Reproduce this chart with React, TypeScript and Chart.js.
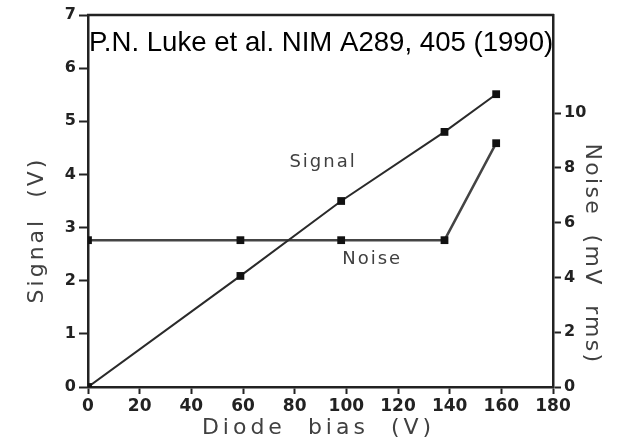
import React, { useEffect, useRef } from "react";
import { Chart, registerables } from "chart.js";

Chart.register(...registerables);

// Data
const biasSignal = [0, 59, 98, 138, 158];
const signalV = [0, 2.09, 3.5, 4.8, 5.51];
const biasNoise = [0, 59, 98, 138, 158];
const noiseMV = [5.36, 5.36, 5.36, 5.36, 8.9];

const xTicks = [0, 20, 40, 60, 80, 100, 120, 140, 160, 180];
const leftTicks = [0, 1, 2, 3, 4, 5, 6, 7];
const rightTicks = [0, 2, 4, 6, 8, 10];

const titleText = "P.N. Luke et al. NIM A289, 405 (1990)";
const xTitle = "Diode  bias  (V)";
const yLeftTitle = "Signal  (V)";
const yRightTitle = "Noise  (mV  rms)";
// annotation labels, anchored in data units (x in V bias, y in Signal V)
const seriesLabels = ["Signal", "Noise"];
const labelX = [91, 110];
const labelY = [4.22, 2.4];

const INK = "#222";
const TXT = "#404040";

const overlay = {
  id: "overlay",
  afterDraw(chart: any) {
    const { ctx, chartArea } = chart;
    const xs = chart.scales.x;
    const yl = chart.scales.y;
    ctx.save();
    // top border of the box
    ctx.strokeStyle = INK;
    ctx.lineWidth = 2.5;
    ctx.beginPath();
    ctx.moveTo(chartArea.left - 1, chartArea.top);
    ctx.lineTo(chartArea.right + 1, chartArea.top);
    ctx.stroke();

    // reference title
    ctx.fillStyle = "#000";
    ctx.font = '27.6px "Liberation Sans", Arial, sans-serif';
    ctx.textAlign = "left";
    ctx.textBaseline = "alphabetic";
    ctx.fillText(titleText, chartArea.left + 1, chartArea.top + 36);

    // axis titles
    ctx.fillStyle = TXT;
    ctx.font = '22px "DejaVu Sans", sans-serif';
    (ctx as any).letterSpacing = "4px";
    ctx.textAlign = "center";
    ctx.textBaseline = "middle";
    ctx.fillText(xTitle, (chartArea.left + chartArea.right) / 2 - 2, 428);

    (ctx as any).letterSpacing = "3px";
    ctx.save();
    ctx.translate(37, 230);
    ctx.rotate(-Math.PI / 2);
    ctx.fillText(yLeftTitle, 0, 0);
    ctx.restore();

    (ctx as any).letterSpacing = "2.3px";
    ctx.save();
    ctx.translate(592, 254);
    ctx.rotate(Math.PI / 2);
    ctx.fillText(yRightTitle, 0, 0);
    ctx.restore();

    // series annotations
    (ctx as any).letterSpacing = "2px";
    ctx.font = '18px "DejaVu Sans", sans-serif';
    ctx.fillStyle = TXT;
    for (let i = 0; i < seriesLabels.length; i++) {
      ctx.fillText(
        seriesLabels[i],
        xs.getPixelForValue(labelX[i]),
        yl.getPixelForValue(labelY[i])
      );
    }
    ctx.restore();
  },
};

export default function App() {
  const ref = useRef<HTMLCanvasElement>(null);
  useEffect(() => {
    if (!ref.current) return;
    const tickFont = { family: '"DejaVu Sans", sans-serif', size: 16, weight: "bold" as const };
    const chart = new Chart(ref.current, {
      type: "line",
      data: {
        datasets: [
          {
            label: "Signal",
            data: biasSignal.map((x, i) => ({ x, y: signalV[i] })),
            yAxisID: "y",
            borderColor: "#2a2a2a",
            backgroundColor: "#111",
            borderWidth: 2,
            pointStyle: "rect",
            pointRadius: 5.5,
            pointBorderWidth: 0,
            tension: 0,
          },
          {
            label: "Noise",
            data: biasNoise.map((x, i) => ({ x, y: noiseMV[i] })),
            yAxisID: "y2",
            borderColor: "#444",
            backgroundColor: "#111",
            borderWidth: 2.5,
            pointStyle: "rect",
            pointRadius: 5.5,
            pointBorderWidth: 0,
            tension: 0,
          },
        ],
      },
      options: {
        responsive: false,
        animation: false,
        layout: { padding: { top: 15, left: 0, right: 0, bottom: 0 } },
        plugins: {
          legend: { display: false },
          tooltip: { enabled: false },
          title: { display: false },
        },
        scales: {
          x: {
            type: "linear",
            min: 0,
            max: 180,
            afterBuildTicks: (s: any) => {
              s.ticks = xTicks.map((v) => ({ value: v }));
            },
            afterFit: (s: any) => {
              s.height = 54;
            },
            ticks: { font: { ...tickFont, size: 17 }, color: INK, padding: 2, maxRotation: 0, autoSkip: false },
            grid: { drawOnChartArea: false, drawTicks: true, tickLength: 7, tickColor: INK, tickWidth: 2 },
            border: { display: true, color: INK, width: 2.5 },
          },
          y: {
            type: "linear",
            position: "left",
            min: 0,
            max: 7,
            afterBuildTicks: (s: any) => {
              s.ticks = leftTicks.map((v) => ({ value: v }));
            },
            afterFit: (s: any) => {
              s.width = 88;
            },
            ticks: { font: tickFont, color: INK, padding: 3, autoSkip: false },
            grid: { drawOnChartArea: false, drawTicks: true, tickLength: 9, tickColor: INK, tickWidth: 2 },
            border: { display: true, color: INK, width: 2.5 },
          },
          y2: {
            type: "linear",
            position: "right",
            min: 0,
            max: 13.58,
            afterBuildTicks: (s: any) => {
              s.ticks = rightTicks.map((v) => ({ value: v }));
            },
            afterFit: (s: any) => {
              s.width = 65;
            },
            ticks: { font: tickFont, color: INK, padding: 3, autoSkip: false },
            grid: { drawOnChartArea: false, drawTicks: true, tickLength: 8, tickColor: INK, tickWidth: 2 },
            border: { display: true, color: INK, width: 2.5 },
          },
        },
      },
      plugins: [overlay],
    });
    return () => chart.destroy();
  }, []);
  return (
    <div style={{ position: "fixed", left: 0, top: 0, width: 618, height: 441, background: "#fff" }}>
      <canvas ref={ref} width={618} height={441} />
    </div>
  );
}
